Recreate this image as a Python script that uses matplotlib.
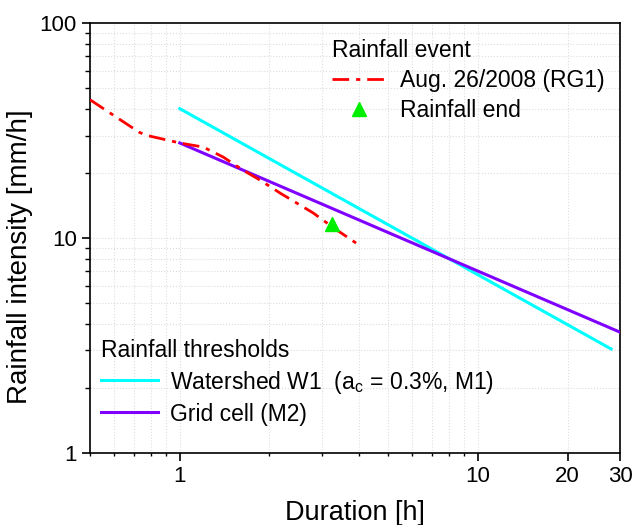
import matplotlib
matplotlib.use("Agg")
import matplotlib.pyplot as plt
from matplotlib.ticker import LogLocator, FixedLocator, FixedFormatter, NullFormatter

plt.rcParams.update({
    "font.family": ["Liberation Sans", "DejaVu Sans"],
    "mathtext.fontset": "custom",
    "mathtext.rm": "Liberation Sans",
    "axes.linewidth": 1.2,
})

# ---------------------------------------------------------------- data
# rainfall event Aug. 26/2008 (RG1): duration [h] vs mean intensity [mm/h]
event_dur = [0.50, 0.73, 0.77, 1.0, 1.2, 1.4, 1.63, 1.86, 2.17, 2.8, 3.27, 3.94]
event_int = [44.0, 31.1, 30.1, 27.7, 26.5, 23.8, 20.7, 18.6, 16.2, 13.1, 11.2, 9.4]

# rainfall end marker
end_dur = [3.25]
end_int = [11.6]

# thresholds (end points of the power-law lines)
w1_dur = [1.0, 28.0]
w1_int = [40.0, 3.05]
grid_dur = [1.0, 30.0]
grid_int = [27.7, 3.65]

xticks = [1, 10, 20, 30]
xtick_labels = ["1", "10", "20", "30"]
yticks = [1, 10, 100]
ytick_labels = ["1", "10", "100"]

RED = "#ff0000"
CYAN = "#00ffff"
PURPLE = "#8000ff"
GREEN = "#00ee00"

# ---------------------------------------------------------------- figure
fig = plt.figure(figsize=(6.34, 5.25), dpi=100)
ax = fig.add_axes([0.142, 0.137, 0.836, 0.819])
ax.set_xscale("log")
ax.set_yscale("log")

ev, = ax.plot(event_dur, event_int, color=RED, lw=2.0,
              dashes=(6, 2.5, 1.5, 2.5), label="Aug. 26/2008 (RG1)", zorder=4)
en, = ax.plot(end_dur, end_int, ls="none", marker="^", ms=10, color=GREEN,
              label="Rainfall end", zorder=5)
w1, = ax.plot(w1_dur, w1_int, color=CYAN, lw=2.2,
              label=r"Watershed W1  (a$_\mathrm{c}$ = 0.3%, M1)", zorder=3)
gc, = ax.plot(grid_dur, grid_int, color=PURPLE, lw=2.2,
              label="Grid cell (M2)", zorder=3)

ax.set_xlim(0.5, 30)
ax.set_ylim(1, 100)

ax.xaxis.set_major_locator(FixedLocator(xticks))
ax.xaxis.set_major_formatter(FixedFormatter(xtick_labels))
ax.xaxis.set_minor_locator(LogLocator(base=10, subs=range(2, 10), numticks=20))
ax.xaxis.set_minor_formatter(NullFormatter())
ax.yaxis.set_major_locator(FixedLocator(yticks))
ax.yaxis.set_major_formatter(FixedFormatter(ytick_labels))
ax.yaxis.set_minor_locator(LogLocator(base=10, subs=range(2, 10), numticks=20))
ax.yaxis.set_minor_formatter(NullFormatter())

ax.tick_params(which="major", direction="out", length=6, width=1.2,
               labelsize=16, top=False, right=False)
ax.tick_params(which="minor", direction="out", length=3.5, width=1.0,
               top=False, right=False)
ax.tick_params(axis="x", which="minor", length=2.5)
ax.grid(which="both", color="#dddddd", ls=":", lw=0.8)
ax.set_axisbelow(True)

ax.set_xlabel("Duration [h]", fontsize=19.5, labelpad=9)
ax.set_ylabel("Rainfall intensity [mm/h]", fontsize=20)
ax.yaxis.set_label_coords(-0.108, 0.456)

common = dict(frameon=False, fontsize=16.5, title_fontsize=16.5,
              borderpad=0, borderaxespad=0, alignment="left")
leg1 = ax.legend(handles=[ev, en], title="Rainfall event", loc="upper left",
                 bbox_to_anchor=(0.457, 0.962), handlelength=2.3,
                 handletextpad=0.65, labelspacing=0.3, **common)
ax.add_artist(leg1)
ax.legend(handles=[w1, gc], title="Rainfall thresholds", loc="lower left",
          bbox_to_anchor=(0.021, 0.063), handlelength=2.5, handleheight=0.95,
          handletextpad=0.5, labelspacing=0.3, **common)

fig.savefig("out.png", dpi=100)
